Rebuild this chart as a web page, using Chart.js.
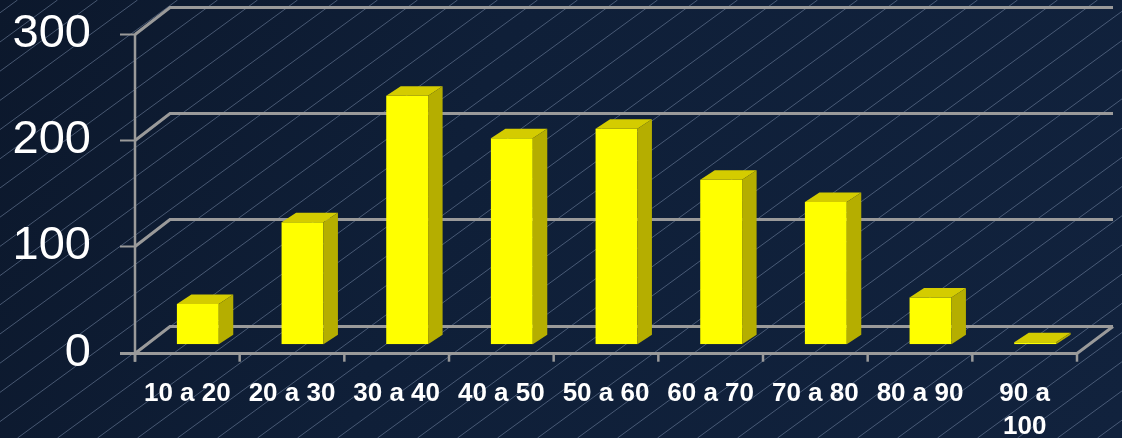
<!DOCTYPE html>
<html>
<head>
<meta charset="utf-8">
<title>Distribución por edades</title>
<script src="https://cdn.jsdelivr.net/npm/chart.js@4.4.1/dist/chart.umd.min.js"></script>
<style>
  html, body { margin: 0; padding: 0; background: #0f1f37; }
  canvas { display: block; }
</style>
</head>
<body>
<canvas id="chart" width="1122" height="438"></canvas>
<script>
// --- data ---
const categories = ['10 a 20', '20 a 30', '30 a 40', '40 a 50', '50 a 60', '60 a 70', '70 a 80', '80 a 90', ['90 a', '100']];
const counts = [38, 115, 234, 194, 203, 155, 134, 44, 2];
const yTicks = [0, 100, 200, 300];

// --- 3D look: oblique depth of the floor/back wall and of the bars ---
const WALL      = { dx: 35, dy: -27 };
const BAR_SHIFT = { dx: 10.5, dy: -8.4 };
const BAR_DEPTH = { dx: 14.5, dy: -9.5 };

const GRID_COLOR = '#9a9a9a';
const BAR_FRONT  = '#ffff00';
const BAR_TOP    = '#d4cc00';
const BAR_SIDE   = '#b5ae00';

// snap a coordinate so odd-width strokes land on whole pixels
const crisp = v => Math.round(v) + 0.5;

/** Slide backdrop: navy gradient with thin diagonal hatching */
const backdrop = {
  id: 'backdrop',
  beforeDraw(chart) {
    const { ctx, width, height } = chart;
    ctx.save();
    const g = ctx.createLinearGradient(0, 0, width, height);
    g.addColorStop(0, '#0c182c');
    g.addColorStop(0.4, '#0f1f38');
    g.addColorStop(1, '#11223d');
    ctx.fillStyle = g;
    ctx.fillRect(0, 0, width, height);

    // hatching: slope ~0.73, 40px apart along the top edge
    ctx.strokeStyle = 'rgba(120,138,168,0.55)';
    ctx.lineWidth = 1;
    ctx.beginPath();
    for (let c = 17.5 - 40; c < width + 640; c += 40) {
      ctx.moveTo(c - 600, height);
      ctx.lineTo(c, 0);
    }
    ctx.stroke();
    ctx.restore();
  },
};

/** Back wall gridlines, floor, axis, then the bars pushed into depth */
const box3d = {
  id: 'box3d',
  beforeDatasetsDraw(chart) {
    const { ctx, chartArea: { left, right, bottom } } = chart;
    const x = chart.scales.x, y = chart.scales.y;
    const yb = crisp(bottom);
    ctx.save();
    ctx.strokeStyle = GRID_COLOR;
    ctx.lineCap = 'butt';

    yTicks.forEach(v => {
      const py = crisp(y.getPixelForValue(v));
      ctx.lineWidth = 3;
      ctx.beginPath();
      ctx.moveTo(left, py);
      ctx.lineTo(left + WALL.dx, py + WALL.dy);
      ctx.lineTo(right + WALL.dx + 1, py + WALL.dy);
      ctx.stroke();
      ctx.lineWidth = 2;
      ctx.beginPath();
      ctx.moveTo(left - 15, py);
      ctx.lineTo(left, py);
      ctx.stroke();
    });

    // floor front edge + right edge
    ctx.lineWidth = 3;
    ctx.beginPath();
    ctx.moveTo(left - 15, yb);
    ctx.lineTo(right, yb);
    ctx.lineTo(right + WALL.dx + 1, yb + WALL.dy);
    ctx.stroke();

    // value axis
    ctx.lineWidth = 2.5;
    ctx.beginPath();
    ctx.moveTo(left, y.getPixelForValue(300));
    ctx.lineTo(left, bottom + 9);
    ctx.stroke();

    // category separators
    for (let i = 0; i <= categories.length; i++) {
      const px = x.getPixelForValue(i - 0.5);
      ctx.beginPath();
      ctx.moveTo(px, bottom);
      ctx.lineTo(px, bottom + 9);
      ctx.stroke();
    }
    ctx.restore();

    ctx.save();
    ctx.translate(BAR_SHIFT.dx, BAR_SHIFT.dy);
  },
  afterDatasetsDraw(chart) {
    const { ctx } = chart;
    chart.getDatasetMeta(0).data.forEach(bar => {
      const { x, y, base, width } = bar.getProps(['x', 'y', 'base', 'width'], true);
      const l = x - width / 2, r = x + width / 2;
      const { dx, dy } = BAR_DEPTH;

      ctx.fillStyle = BAR_TOP;
      ctx.beginPath();
      ctx.moveTo(l, y);
      ctx.lineTo(r, y);
      ctx.lineTo(r + dx, y + dy);
      ctx.lineTo(l + dx, y + dy);
      ctx.closePath();
      ctx.fill();

      ctx.fillStyle = BAR_SIDE;
      ctx.beginPath();
      ctx.moveTo(r, y);
      ctx.lineTo(r + dx, y + dy);
      ctx.lineTo(r + dx, base + dy);
      ctx.lineTo(r, base);
      ctx.closePath();
      ctx.fill();
    });
    ctx.restore();
  },
};

new Chart(document.getElementById('chart'), {
  type: 'bar',
  data: {
    labels: categories,
    datasets: [{
      data: counts,
      backgroundColor: BAR_FRONT,
      borderWidth: 0,
      categoryPercentage: 1,
      barPercentage: 0.4,
    }],
  },
  options: {
    responsive: false,
    animation: false,
    layout: { padding: { top: 34, right: 45, bottom: 0, left: 0 } },
    plugins: { legend: { display: false }, tooltip: { enabled: false } },
    scales: {
      x: {
        grid: { display: false, drawTicks: false },
        border: { display: false },
        ticks: {
          color: '#ffffff',
          padding: 25,
          maxRotation: 0,
          autoSkip: false,
          font: { family: 'Liberation Sans', size: 26, weight: 'bold', lineHeight: 1.27 },
        },
        afterFit: s => { s.height = 85.3; s.paddingLeft = 0; s.paddingRight = 0; },
      },
      y: {
        min: 0,
        max: 300,
        grid: { display: false, drawTicks: false },
        border: { display: false },
        ticks: {
          stepSize: 100,
          color: '#ffffff',
          padding: 44,
          font: { family: 'Liberation Sans', size: 47 },
        },
        afterFit: s => { s.width = 135; s.paddingTop = 0; s.paddingBottom = 0; },
      },
    },
  },
  plugins: [backdrop, box3d],
});
</script>
</body>
</html>
